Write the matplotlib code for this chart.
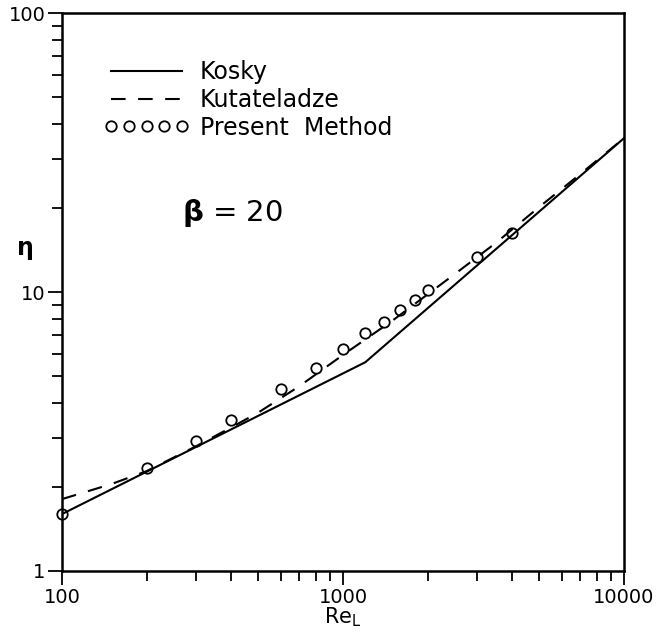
import numpy as np
import matplotlib
matplotlib.use("Agg")
import matplotlib.pyplot as plt
from matplotlib.ticker import LogLocator, FixedLocator, FixedFormatter, NullFormatter

# Kosky correlation (two straight pieces in log-log)
kosky_re = [100, 1200, 10000]
kosky_eta = [1.60, 5.6, 35.6]

# Kutateladze correlation
kut_re = [100, 150, 200, 300, 400, 500, 700, 1000, 1500, 2500, 3500, 5000, 7000, 10000]
kut_eta = [1.81, 2.05, 2.28, 2.80, 3.27, 3.70, 4.60, 5.95, 7.9, 11.6, 15.0, 20.2, 26.5, 35.6]

# present method (circles)
pm_re = [100, 200, 300, 400, 600, 800, 1000, 1200, 1400, 1600, 1800, 2000, 3000, 4000]
pm_eta = [1.60, 2.34, 2.92, 3.48, 4.49, 5.34, 6.25, 7.13, 7.8, 8.6, 9.36, 10.2, 13.3, 16.3]

x_ticks = [100, 1000, 10000]
x_ticklabels = ['100', '1000', '10000']
y_ticks = [1, 10, 100]
y_ticklabels = ['1', '10', '100']

fig = plt.figure(figsize=(6.57, 6.35), dpi=100)
ax = fig.add_axes([0.0944, 0.1008, 0.8554, 0.8787])

ax.plot(kosky_re, kosky_eta, color='black', lw=1.5, label='Kosky')
ax.plot(kut_re, kut_eta, color='black', lw=1.5, dashes=(7, 6), label='Kutateladze')
ax.plot(pm_re, pm_eta, ls='none', marker='o', ms=7.5, mfc='none', mec='black', mew=1.3,
        label='Present  Method', clip_on=False)

ax.set_xscale('log')
ax.set_yscale('log')
ax.set_xlim(100, 10000)
ax.set_ylim(1, 100)

ax.xaxis.set_major_locator(FixedLocator(x_ticks))
ax.xaxis.set_major_formatter(FixedFormatter(x_ticklabels))
ax.yaxis.set_major_locator(FixedLocator(y_ticks))
ax.yaxis.set_major_formatter(FixedFormatter(y_ticklabels))
ax.xaxis.set_minor_locator(LogLocator(base=10, subs=np.arange(2, 10)))
ax.yaxis.set_minor_locator(LogLocator(base=10, subs=np.arange(2, 10)))
ax.xaxis.set_minor_formatter(NullFormatter())
ax.yaxis.set_minor_formatter(NullFormatter())

ax.tick_params(which='major', direction='out', length=10, width=1.3, labelsize=14, pad=2)
ax.tick_params(which='minor', direction='out', length=7, width=1.3)
for s in ax.spines.values():
    s.set_linewidth(1.8)

ax.set_xlabel('Re$_\\mathregular{L}$', fontsize=15, labelpad=-1)
fig.text(0.038, 1 - 250 / 635, '$\\mathbf{\\eta}$', fontsize=17, ha='center', va='center')

ax.text(0.2135, 0.642, '$\\mathbf{\\beta}$ = 20', transform=ax.transAxes, fontsize=21,
        ha='left', va='center')

leg = ax.legend(loc='upper left', bbox_to_anchor=(0.075, 0.915), frameon=False,
                fontsize=17, handlelength=3.6, handletextpad=0.45, labelspacing=0.15,
                numpoints=5, borderpad=0, borderaxespad=0)

fig.savefig('out.png', dpi=100)
